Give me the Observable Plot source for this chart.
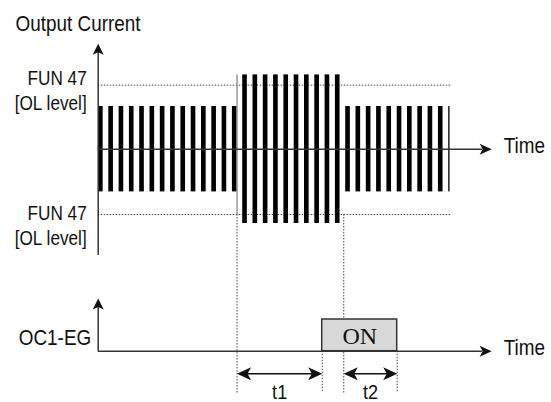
<!DOCTYPE html>
<html>
<head>
<meta charset="utf-8">
<script src="https://cdn.jsdelivr.net/npm/d3@7"></script>
<script src="https://cdn.jsdelivr.net/npm/@observablehq/plot@0.6"></script>
<style>
  html, body { margin: 0; padding: 0; background: #fff; }
  #chart { width: 551px; }
  #chart svg { display: block; }
</style>
</head>
<body>
<div id="chart"></div>
<script>
// ---------------- data (time in pulse periods, current in units of normal peak) ----------------
const pulseAmplitude = [1, 1, 1, 1, 1, 1, 1, 1, 1, 1, 1, 1, 1, 1,
  1.74, 1.74, 1.74, 1.74, 1.74, 1.74, 1.74, 1.74, 1.74, 1.74,
  1, 1, 1, 1, 1, 1, 1, 1, 1, 1, 1];
const traceEnd = 34.16;             // waveform drawn up to here
const olLevels = [1.5, -1.53];      // FUN 47 [OL level] (upper / lower)
const olLineEnd = 34.3;
const olLabelY = [1.39, -1.77];
const olLabelText = ["FUN 47\n[OL level]", "FUN 47\n[OL level]"];
const overloadStart = 13.48;        // current exceeds OL level
const overloadEnd = 23.84;          // current back below OL level
const delayNames = ["t1", "t2"];
const delayValues = [8.27, 5.19];   // t1, t2
const outputLabels = ["OC1-EG"];
const onLabel = "ON";
const axisTitles = ["Output Current", "Time"];

// derived
const onStart = overloadStart + delayValues[0];
const onEnd = overloadEnd + delayValues[1];
const pulses = pulseAmplitude.map((a, k) => ({x1: k + 0.03, x2: Math.min(k + 0.48, traceEnd), y1: -a, y2: a}));
const delays = [
  {name: delayNames[0], from: overloadStart, to: onStart},
  {name: delayNames[1], from: overloadEnd, to: onEnd}
];

// ---------------- styling ----------------
const W = 551;
const INK = "#111";
const AX = "#333";
const SANS = "'Liberation Sans', Arial, sans-serif";
const SERIF = "'Liberation Serif', 'Times New Roman', serif";
const dotted = {stroke: "#444", strokeWidth: 1, strokeDasharray: "1.5,1.5"};
const timeTip = 38.2;

const headUp = {draw(c) { c.moveTo(0, 0); c.lineTo(5.5, 11); c.lineTo(0, 8.5); c.lineTo(-5.5, 11); c.closePath(); }};
const headRight = {draw(c) { c.moveTo(0, 0); c.lineTo(-12, -5.5); c.lineTo(-9, 0); c.lineTo(-12, 5.5); c.closePath(); }};
const bigLeft = {draw(c) { c.moveTo(0, 0); c.lineTo(14, -6.5); c.lineTo(10.5, 0); c.lineTo(14, 6.5); c.closePath(); }};
const bigRight = {draw(c) { c.moveTo(0, 0); c.lineTo(-14, -6.5); c.lineTo(-10.5, 0); c.lineTo(-14, 6.5); c.closePath(); }};

const xScale = {domain: [0, 40], axis: null};
const common = {width: W, marginLeft: 97.7, marginRight: W - 97.7 - 412, x: xScale, style: {background: "white"}};

// ---------------- top panel: output current ----------------
const topPlot = Plot.plot({
  ...common,
  height: 270, marginTop: 106, marginBottom: 78.6,
  y: {domain: [-1, 1], axis: null},
  marks: [
    Plot.ruleY(olLevels, {x1: 0, x2: olLineEnd, ...dotted}),
    Plot.ruleX([overloadStart, overloadEnd], {y1: olLevels[1], y2: -2.95, ...dotted}),
    Plot.rect(pulses, {x1: "x1", x2: "x2", y1: "y1", y2: "y2", fill: "#000"}),
    Plot.ruleX([overloadStart], {y1: olLevels[1], y2: 1.74, stroke: "#888", strokeWidth: 1.3}),
    Plot.ruleY([0], {x1: 0, x2: timeTip - 0.9, stroke: AX, strokeWidth: 1.5}),
    Plot.ruleX([0], {y1: -2.49, y2: 2.3, stroke: AX, strokeWidth: 1.5}),
    Plot.dot([{x: 0, y: 2.47}], {x: "x", y: "y", symbol: headUp, fill: INK, stroke: null}),
    Plot.dot([{x: timeTip, y: 0}], {x: "x", y: "y", symbol: headRight, fill: INK, stroke: null}),
    Plot.text([axisTitles[0]], {x: 0, y: 2.94, text: d => d, dx: -82.7, textAnchor: "start", fontSize: 22, fontFamily: SANS, fill: INK}),
    Plot.text([axisTitles[1]], {x: timeTip, y: 0, text: d => d, dx: 12, dy: -3, textAnchor: "start", fontSize: 22, fontFamily: SANS, fill: INK}),
    Plot.text(olLabelText, {x: 0, y: (d, i) => olLabelY[i], text: d => d, dx: -11.5, textAnchor: "end", lineHeight: 1.25, fontSize: 20, fontFamily: SANS, fill: INK})
  ]
});

// ---------------- bottom panel: OC1-EG output ----------------
const botPlot = Plot.plot({
  ...common,
  height: 132, marginTop: 49, marginBottom: 51.3,
  y: {domain: [0, 1], axis: null},
  marks: [
    Plot.ruleX([overloadStart, overloadEnd], {y1: -1.32, y2: 2.7, ...dotted}),
    Plot.ruleX([onStart, onEnd], {y1: 0, y2: -1.32, ...dotted}),
    Plot.rect([{x1: onStart, x2: onEnd}], {x1: "x1", x2: "x2", y1: 0, y2: 1, fill: "#d9d9d9", stroke: AX, strokeWidth: 1.5}),
    Plot.text([onLabel], {x: (onStart + onEnd) / 2, y: 0.5, text: d => d, dy: 1, fontSize: 24, fontFamily: SERIF, fill: INK}),
    Plot.ruleY([0], {x1: 0, x2: timeTip - 0.9, stroke: AX, strokeWidth: 1.5}),
    Plot.ruleX([0], {y1: 0, y2: 1.5, stroke: AX, strokeWidth: 1.5}),
    Plot.dot([{x: 0, y: 1.66}], {x: "x", y: "y", symbol: headUp, fill: INK, stroke: null}),
    Plot.dot([{x: timeTip, y: 0}], {x: "x", y: "y", symbol: headRight, fill: INK, stroke: null}),
    Plot.ruleY(delays, {x1: d => d.from + 0.6, x2: d => d.to - 0.6, y: -0.71, stroke: INK, strokeWidth: 1.5}),
    Plot.dot(delays, {x: "from", y: -0.71, symbol: bigLeft, fill: INK, stroke: null}),
    Plot.dot(delays, {x: "to", y: -0.71, symbol: bigRight, fill: INK, stroke: null}),
    Plot.text(delays, {x: d => (d.from + d.to) / 2, y: -1.3, text: "name", fontSize: 21, fontFamily: SANS, fill: INK}),
    Plot.text(outputLabels, {x: 0, y: 0.42, text: d => d, dx: -7, textAnchor: "end", fontSize: 22, fontFamily: SANS, fill: INK}),
    Plot.text([axisTitles[1]], {x: timeTip, y: 0, text: d => d, dx: 12, dy: -3, textAnchor: "start", fontSize: 22, fontFamily: SANS, fill: INK})
  ]
});

// narrow sans-serif look of the original lettering
function condense(svg, k) {
  svg.querySelectorAll("text").forEach(t => {
    if (t.textContent === onLabel) return;
    let tr = t.getAttribute("transform");
    if (!tr) {
      const x = +t.getAttribute("x") || 0, y = +t.getAttribute("y") || 0;
      tr = `translate(${x},${y})`;
      t.removeAttribute("x");
    }
    t.setAttribute("transform", tr + ` scale(${k},1)`);
  });
}
condense(topPlot, 0.86);
condense(botPlot, 0.86);

const host = document.getElementById("chart");
host.append(topPlot, botPlot);
</script>
</body>
</html>
